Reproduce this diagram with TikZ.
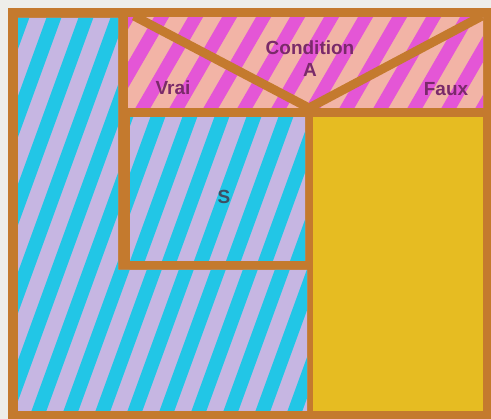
\documentclass[tikz,border=0pt]{standalone}
\usepackage{fontspec}
\setmainfont{Liberation Sans}
\definecolor{bgc}{HTML}{EEEEEA}
\definecolor{brn}{HTML}{C47A2E}
\definecolor{cyn}{HTML}{22C6E6}
\definecolor{lav}{HTML}{C6B6E2}
\definecolor{mag}{HTML}{E456D6}
\definecolor{pch}{HTML}{F2B4A6}
\definecolor{ylw}{HTML}{E6BC22}
\definecolor{txp}{HTML}{7A2A6A}
\definecolor{txs}{HTML}{3E4E62}
\begin{document}
\begin{tikzpicture}[x=1pt,y=-1pt,
  lbl/.style={font=\bfseries\fontsize{19}{21}\selectfont, inner sep=0pt},
  cstripe/.style={cyn, line width=14pt},
  mstripe/.style={mag, line width=13pt},
  bar/.style={brn, line width=9pt}]
\useasboundingbox (0,0) rectangle (491,419);
\fill[bgc] (0,0) rectangle (491,419);
\fill[brn] (8,8) rectangle (491,419);
% outer loop body (L shape)
\begin{scope}
\clip (18,18) -- (118,18) -- (118,270) -- (307,270) -- (307,411) -- (18,411) -- cycle;
\fill[lav] (0,0) rectangle (491,419);
\foreach \i in {-10,...,20} \draw[cstripe] (\i*32,430) -- ++(160,-440);
\end{scope}
% condition header
\begin{scope}
\clip (128,18) rectangle (483,108);
\fill[pch] (0,0) rectangle (491,419);
\foreach \i in {-5,...,20} \draw[mstripe] (\i*34,120) -- ++(70,-121);
\end{scope}
\draw[bar] (134,16) -- (309,108) -- (482,16);
% S block
\begin{scope}
\clip (130,118) rectangle (305,261);
\fill[lav] (0,0) rectangle (491,419);
\foreach \i in {-10,...,20} \draw[cstripe] (\i*32+12,430) -- ++(160,-440);
\end{scope}
% false branch
\fill[ylw] (313,117) rectangle (483,411);
% texts
\node[lbl, txp] (cond) at (310,48) {Condition};
\node[lbl, txp] (a) at (310,70) {A};
\node[lbl, txp] (vrai) at (173,88) {Vrai};
\node[lbl, txp] (faux) at (446,89) {Faux};
\node[lbl, txs] (s) at (224,197) {S};
\end{tikzpicture}
\end{document}
